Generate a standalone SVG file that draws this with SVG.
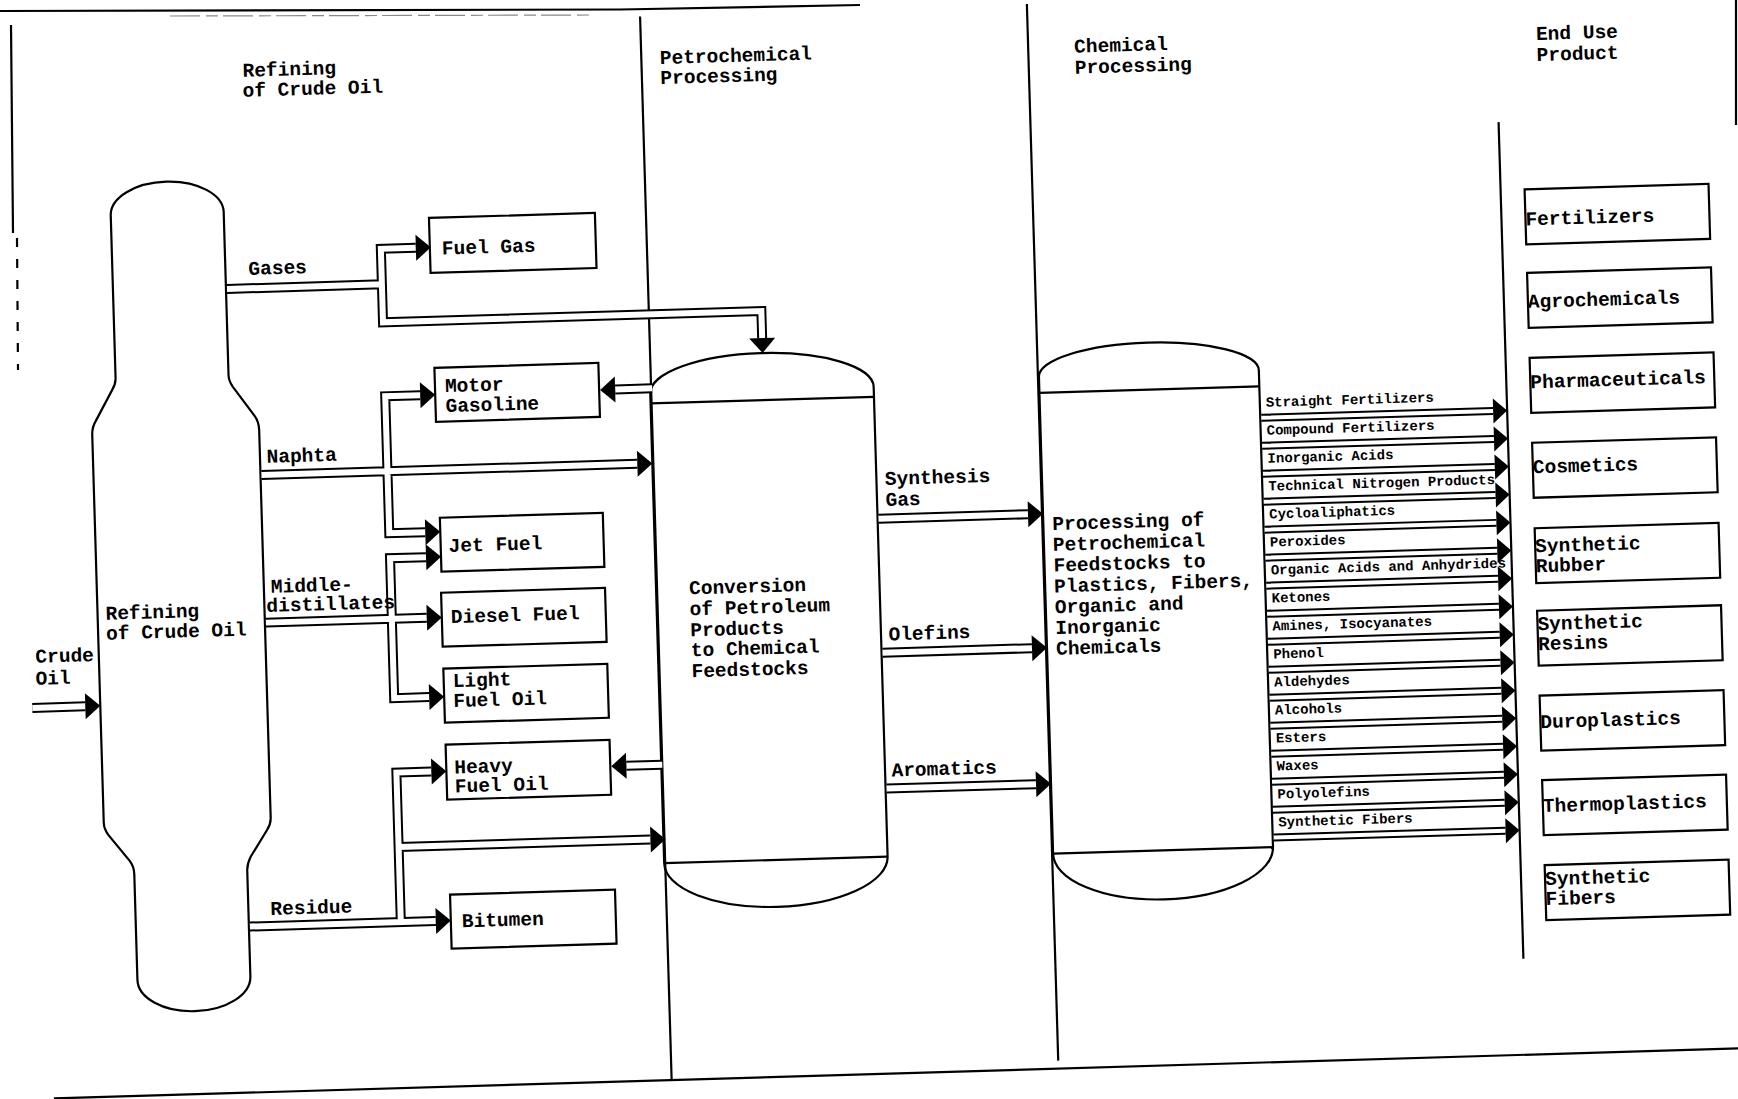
<svg xmlns="http://www.w3.org/2000/svg" width="1738" height="1099" viewBox="0 0 1738 1099">
<style>
text{font-family:"Liberation Mono","Courier New",monospace;font-weight:bold;fill:#000}
.t{font-size:19.5px}
.s{font-size:14px}
.ol{fill:none;stroke:#000;stroke-width:2.2}
.ln{fill:none;stroke:#000;stroke-width:2.2}
.po{fill:none;stroke:#000;stroke-width:10;stroke-linejoin:miter}
.pi{fill:none;stroke:#fff;stroke-width:6;stroke-linejoin:miter}
.lo{fill:none;stroke:#000;stroke-width:8}
.li{fill:none;stroke:#fff;stroke-width:4}
.ah{fill:#000}
</style>
<defs>
<path id="ar" d="M0,0 L-15,-13 L-15,13 Z"/>
<path id="al" d="M0,0 L15,-13 L15,13 Z"/>
<path id="ad" d="M0,0 L-13,-15 L13,-15 Z"/>
<path id="as" d="M0,0 L-14,-12.5 L-14,12.5 Z"/>
<path id="p-gas" d="M235,270 H390 M425,234.5 H390 V308 H768.5 V335"/>
<path id="p-nap" d="M264,457 H640 M425,382 H390 V519 H426"/>
<path id="p-mid" d="M264,604.7 H425 M426,544 H390 V684 H425"/>
<path id="p-res" d="M239,908 H425 M425,758.5 H390 V908 M390,833 H642"/>
<path id="p-back" d="M657,382 H620 M656,758.5 H620"/>
<path id="p-crude" d="M28,683 H81"/>
<path id="p-feed" d="M879.5,519 H1029 M879.5,653 H1029 M879.5,789 H1029"/>
<path id="p-list" d="M1265,429.5 H1497 M1265,457.5 H1497 M1265,485.5 H1497 M1265,513.5 H1497 M1265,541.5 H1497 M1265,569.5 H1497 M1265,597.5 H1497 M1265,625.5 H1497 M1265,653.5 H1497 M1265,681.5 H1497 M1265,709.5 H1497 M1265,737.5 H1497 M1265,765.5 H1497 M1265,793.5 H1497 M1265,821.5 H1497 M1265,849.5 H1497"/>
</defs>
<rect x="0" y="0" width="1738" height="1099" fill="#fff"/>
<g id="frame-outer">
<polyline class="ln" points="0,11 620,9.5 860,5" stroke-width="3"/>
<line x1="170" y1="16" x2="590" y2="15" stroke="#888" stroke-width="1.2" stroke-dasharray="30 6 12 5"/>
<line class="ln" x1="11" y1="25" x2="13" y2="233"/>
<line class="ln" x1="17" y1="238" x2="18" y2="370" stroke-dasharray="9 12"/>
<line class="ln" x1="1736" y1="0" x2="1736" y2="125"/>
</g>
<g id="page" transform="rotate(-1.7 869 550)">
<g id="frame">
<line class="ln" x1="38" y1="1074" x2="1760" y2="1074" stroke-width="2.6"/>
<line class="ln" x1="656" y1="10" x2="656" y2="1074"/>
<line class="ln" x1="1043" y1="9" x2="1043" y2="1066"/>
<line class="ln" x1="1511" y1="141" x2="1511" y2="978"/>
</g>
<g id="titles">
<text class="t" x="257" y="58.4">Refining</text>
<text class="t" x="256.5" y="78.4">of Crude Oil</text>
<text class="t" x="674.5" y="58">Petrochemical</text>
<text class="t" x="674.5" y="78">Processing</text>
<text class="t" x="1089" y="59">Chemical</text>
<text class="t" x="1089" y="80">Processing</text>
<text class="t" x="1551" y="60">End Use</text>
<text class="t" x="1551" y="81">Product</text>
</g>
<g id="refinery-tower">
<path class="ol" fill="#fff" d="M121,193 A56.5,32 0 0 1 234,193 L234,356 Q234,362 238,368 L259,398 Q263,404 263,412 L263,800 Q263,806 259,812 L242,838 Q238,845 238,852 L238,958 A56.5,33 0 0 1 125,958 L125,852 Q125,845 121,839 L100,812 Q96,806 96,800 L96,412 Q96,404 100,398 L117,368 Q121,362 121,356 Z"/>
<text class="t" x="104" y="597">Refining</text>
<text class="t" x="104" y="617">of Crude Oil</text>
</g>
<g id="petro-tower">
<path class="ol" d="M655,387 A111.75,37 0 0 1 878.5,387 V857 A111.75,47 0 0 1 655,857 Z"/>
<line class="ln" x1="655" y1="397" x2="878.5" y2="397"/>
<line class="ln" x1="655" y1="857" x2="878.5" y2="857"/>
<text class="t" x="688" y="589">Conversion</text>
<text class="t" x="688" y="610">of Petroleum</text>
<text class="t" x="688" y="631">Products</text>
<text class="t" x="688" y="651">to Chemical</text>
<text class="t" x="688" y="672">Feedstocks</text>
</g>
<g id="chem-tower">
<path class="ol" d="M1044,382 A110,31 0 0 1 1264,382 V859 A110,49 0 0 1 1044,859 Z"/>
<line class="ln" x1="1044" y1="398" x2="1264" y2="398"/>
<line class="ln" x1="1044" y1="859" x2="1264" y2="859"/>
<text class="t" x="1053" y="535.5">Processing of</text>
<text class="t" x="1053" y="556.3">Petrochemical</text>
<text class="t" x="1053" y="577.1">Feedstocks to</text>
<text class="t" x="1053" y="597.9">Plastics, Fibers,</text>
<text class="t" x="1053" y="618.7">Organic and</text>
<text class="t" x="1053" y="639.5">Inorganic</text>
<text class="t" x="1053" y="660.3">Chemicals</text>
</g>
<g id="box-fuel-gas"><rect class="ol" x="439" y="205" width="166" height="55"/><text class="t" x="451" y="242">Fuel Gas</text></g>
<g id="box-motor-gasoline"><rect class="ol" x="440" y="355" width="164" height="54"/><text class="t" x="450" y="379.6">Motor</text><text class="t" x="450" y="399.6">Gasoline</text></g>
<g id="box-jet-fuel"><rect class="ol" x="441" y="505" width="163" height="54"/><text class="t" x="449" y="539.5">Jet Fuel</text></g>
<g id="box-diesel-fuel"><rect class="ol" x="440" y="580" width="164" height="54"/><text class="t" x="449" y="610.6">Diesel Fuel</text></g>
<g id="box-light-fuel-oil"><rect class="ol" x="440" y="656" width="164" height="54"/><text class="t" x="449" y="674.6">Light</text><text class="t" x="449" y="694.6">Fuel Oil</text></g>
<g id="box-heavy-fuel-oil"><rect class="ol" x="440" y="732" width="164" height="55"/><text class="t" x="448" y="761">Heavy</text><text class="t" x="448" y="780">Fuel Oil</text></g>
<g id="box-bitumen"><rect class="ol" x="440" y="882" width="165" height="54"/><text class="t" x="451" y="915">Bitumen</text></g>
<g id="end-products">
<g id="box-fertilizers"><rect class="ol" x="1535" y="209" width="184" height="55"/><text class="t" x="1535" y="245">Fertilizers</text></g>
<g id="box-agrochemicals"><rect class="ol" x="1535" y="292.5" width="184" height="55"/><text class="t" x="1535" y="327.5">Agrochemicals</text></g>
<g id="box-pharmaceuticals"><rect class="ol" x="1535" y="377.5" width="184" height="55"/><text class="t" x="1535" y="408">Pharmaceuticals</text></g>
<g id="box-cosmetics"><rect class="ol" x="1535" y="462.5" width="184" height="55"/><text class="t" x="1535" y="493">Cosmetics</text></g>
<g id="box-synthetic-rubber"><rect class="ol" x="1535" y="548" width="184" height="55"/><text class="t" x="1535" y="572">Synthetic</text><text class="t" x="1535" y="592">Rubber</text></g>
<g id="box-synthetic-resins"><rect class="ol" x="1535" y="630.5" width="184" height="55"/><text class="t" x="1535" y="650">Synthetic</text><text class="t" x="1535" y="670">Resins</text></g>
<g id="box-duroplastics"><rect class="ol" x="1535" y="715.5" width="184" height="55"/><text class="t" x="1535" y="748">Duroplastics</text></g>
<g id="box-thermoplastics"><rect class="ol" x="1535" y="800" width="184" height="55"/><text class="t" x="1535" y="832">Thermoplastics</text></g>
<g id="box-synthetic-fibers"><rect class="ol" x="1535" y="885" width="184" height="55"/><text class="t" x="1535" y="905">Synthetic</text><text class="t" x="1535" y="925">Fibers</text></g>
</g>
<g id="connectors">
<use href="#p-gas" class="po"/><use href="#p-nap" class="po"/><use href="#p-mid" class="po"/><use href="#p-res" class="po"/><use href="#p-back" class="po"/><use href="#p-crude" class="po"/><use href="#p-feed" class="po"/><use href="#p-list" class="lo"/>
<use href="#p-gas" class="pi"/><use href="#p-nap" class="pi"/><use href="#p-mid" class="pi"/><use href="#p-res" class="pi"/><use href="#p-back" class="pi"/><use href="#p-crude" class="pi"/><use href="#p-feed" class="pi"/><use href="#p-list" class="li"/>
<use href="#ar" class="ah" x="440" y="234.5"/>
<use href="#ar" class="ah" x="440" y="382"/>
<use href="#al" class="ah" x="605" y="382"/>
<use href="#ar" class="ah" x="655" y="457"/>
<use href="#ar" class="ah" x="441" y="519"/>
<use href="#ar" class="ah" x="441" y="544"/>
<use href="#ar" class="ah" x="440" y="604.7"/>
<use href="#ar" class="ah" x="440" y="684"/>
<use href="#ar" class="ah" x="440" y="758.5"/>
<use href="#al" class="ah" x="605" y="758.5"/>
<use href="#ar" class="ah" x="657" y="833"/>
<use href="#ar" class="ah" x="440" y="908"/>
<use href="#ad" class="ah" x="768.5" y="350"/>
<use href="#ar" class="ah" x="96" y="683"/>
<use href="#ar" class="ah" x="1044" y="519"/>
<use href="#ar" class="ah" x="1044" y="653"/>
<use href="#ar" class="ah" x="1044" y="789"/>
<use href="#as" class="ah" x="1511" y="429.5"/>
<use href="#as" class="ah" x="1511" y="457.5"/>
<use href="#as" class="ah" x="1511" y="485.5"/>
<use href="#as" class="ah" x="1511" y="513.5"/>
<use href="#as" class="ah" x="1511" y="541.5"/>
<use href="#as" class="ah" x="1511" y="569.5"/>
<use href="#as" class="ah" x="1511" y="597.5"/>
<use href="#as" class="ah" x="1511" y="625.5"/>
<use href="#as" class="ah" x="1511" y="653.5"/>
<use href="#as" class="ah" x="1511" y="681.5"/>
<use href="#as" class="ah" x="1511" y="709.5"/>
<use href="#as" class="ah" x="1511" y="737.5"/>
<use href="#as" class="ah" x="1511" y="765.5"/>
<use href="#as" class="ah" x="1511" y="793.5"/>
<use href="#as" class="ah" x="1511" y="821.5"/>
<use href="#as" class="ah" x="1511" y="849.5"/>
</g>
<g id="connector-labels">
<text class="t" x="257" y="256.6">Gases</text>
<text class="t" x="269.6" y="445">Naphta</text>
<text class="t" x="270" y="575">Middle-</text>
<text class="t" x="265" y="594">distillates</text>
<text class="t" x="260" y="897">Residue</text>
<text class="t" x="32.6" y="638">Crude</text>
<text class="t" x="32" y="660">Oil</text>
<text class="t" x="887" y="485.5">Synthesis</text>
<text class="t" x="887" y="506.5">Gas</text>
<text class="t" x="886" y="641">Olefins</text>
<text class="t" x="885" y="777">Aromatics</text>
</g>
<g id="chemical-list">
<text class="s" x="1270" y="418.5">Straight Fertilizers</text>
<text class="s" x="1270" y="446.5">Compound Fertilizers</text>
<text class="s" x="1270" y="474.5">Inorganic Acids</text>
<text class="s" x="1270" y="502.5">Technical Nitrogen Products</text>
<text class="s" x="1270" y="530.5">Cycloaliphatics</text>
<text class="s" x="1270" y="558.5">Peroxides</text>
<text class="s" x="1270" y="586.5">Organic Acids and Anhydrides</text>
<text class="s" x="1270" y="614.5">Ketones</text>
<text class="s" x="1270" y="642.5">Amines, Isocyanates</text>
<text class="s" x="1270" y="670.5">Phenol</text>
<text class="s" x="1270" y="698.5">Aldehydes</text>
<text class="s" x="1270" y="726.5">Alcohols</text>
<text class="s" x="1270" y="754.5">Esters</text>
<text class="s" x="1270" y="782.5">Waxes</text>
<text class="s" x="1270" y="810.5">Polyolefins</text>
<text class="s" x="1270" y="838.5">Synthetic Fibers</text>
</g>
</g>
</svg>
